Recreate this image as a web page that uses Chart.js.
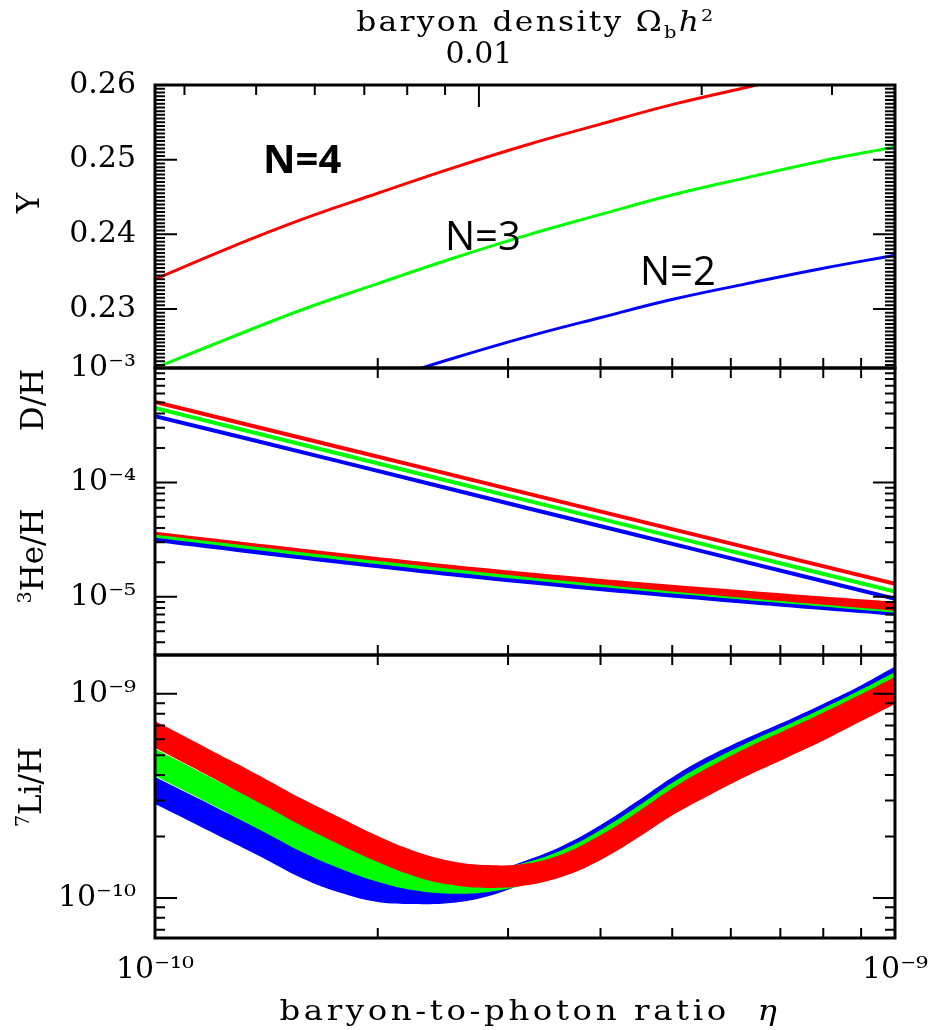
<!DOCTYPE html>
<html>
<head>
<meta charset="utf-8">
<title>BBN abundances vs baryon-to-photon ratio</title>
<script src="https://cdn.jsdelivr.net/npm/chart.js@4.4.1/dist/chart.umd.min.js"></script>
<style>
  html, body { margin: 0; padding: 0; background: #fff; }
  #wrap { position: relative; width: 942px; height: 1030px; overflow: hidden; }
  canvas { position: absolute; left: 0; top: 0; }
  .lbl { position: absolute; white-space: nowrap; font-family: 'DejaVu Serif', serif; color: #000; }
  .rot { transform: translate(-50%, -50%) rotate(-90deg); font-size: 31px; line-height: 31px; }
  .lbl sub, .lbl sup { font-size: 62%; line-height: 0; }
  .n { position: absolute; white-space: nowrap; font-family: 'Open Sans', 'Noto Sans', sans-serif; font-size: 40px; line-height: 40px; color: #000; }
</style>
</head>
<body>
<div id="wrap">
  <canvas id="bbn" width="942" height="1030"></canvas>

  <div class="lbl" style="left:0; width:1072px; top:8px; text-align:center; font-size:28px; line-height:28px; letter-spacing:2px; transform:scaleX(1.12);">baryon density Ω<sub>b</sub><i>h</i><sup>2</sup></div>

  <div class="lbl rot" style="left:28px; top:203px;">Y</div>
  <div class="lbl rot" style="left:32px; top:400px;">D/H</div>
  <div class="lbl rot" style="left:32px; top:556px;"><sup>3</sup>He/H</div>
  <div class="lbl rot" style="left:30px; top:787px;"><sup>7</sup>Li/H</div>

  <div class="lbl" style="left:0; width:1060px; top:997px; text-align:center; font-size:27px; line-height:27px; letter-spacing:3px; transform:scaleX(1.2);">baryon-to-photon ratio&nbsp;&nbsp;<i>η</i></div>

  <div class="n" style="left:263px; top:138px; font-weight:700;">N=4</div>
  <div class="n" style="left:445px; top:215px;">N=3</div>
  <div class="n" style="left:640px; top:250px;">N=2</div>
</div>

<script>
'use strict';

// helium-4 mass fraction Y, one curve per neutrino number
var etaY = [1.00e-10, 1.26e-10, 1.58e-10, 2.00e-10, 2.51e-10, 3.16e-10, 3.98e-10, 5.01e-10, 6.31e-10, 7.94e-10, 1.00e-9];
var yN4 = [0.2340, 0.2382, 0.2420, 0.2455, 0.2488, 0.2519, 0.2547, 0.2574, 0.2597, 0.2619, 0.2638];
var yN3 = [0.2221, 0.2261, 0.2299, 0.2334, 0.2367, 0.2398, 0.2426, 0.2453, 0.2476, 0.2498, 0.2517];
var yN2 = [0.2091, 0.2131, 0.2168, 0.2202, 0.2233, 0.2262, 0.2288, 0.2313, 0.2334, 0.2354, 0.2372];

// deuterium and helium-3
var etaD = [1.00e-10, 1.78e-10, 3.16e-10, 5.62e-10, 1.00e-9];
var dhN4 = [5.04e-4, 2.02e-4, 8.10e-5, 3.24e-5, 1.30e-5];
var dhN3 = [4.47e-4, 1.77e-4, 7.03e-5, 2.79e-5, 1.11e-5];
var dhN2 = [3.80e-4, 1.52e-4, 6.04e-5, 2.41e-5, 9.60e-6];
var he3N4Hi = [3.70e-5, 2.42e-5, 1.65e-5, 1.20e-5, 9.04e-6];
var he3N4Lo = [3.48e-5, 2.24e-5, 1.50e-5, 1.04e-5, 7.55e-6];
var he3N3Hi = [3.55e-5, 2.30e-5, 1.55e-5, 1.10e-5, 7.90e-6];
var he3N3Lo = [3.28e-5, 2.10e-5, 1.41e-5, 1.00e-5, 7.25e-6];
var he3N2Hi = [3.35e-5, 2.16e-5, 1.46e-5, 1.03e-5, 7.40e-6];
var he3N2Lo = [3.02e-5, 1.94e-5, 1.30e-5, 9.23e-6, 6.83e-6];

// lithium-7 bands (upper and lower edge of each)
var etaLi = [1.00e-10, 1.12e-10, 1.26e-10, 1.41e-10, 1.58e-10, 1.78e-10, 2.00e-10, 2.24e-10, 2.51e-10, 2.82e-10, 3.16e-10,
             3.55e-10, 3.98e-10, 4.47e-10, 5.01e-10, 5.62e-10, 6.31e-10, 7.08e-10, 7.94e-10, 8.91e-10, 1.00e-9];
var liN4Hi = [7.37e-10, 5.95e-10, 4.75e-10, 3.83e-10, 3.06e-10, 2.47e-10, 2.01e-10, 1.70e-10, 1.52e-10, 1.45e-10, 1.47e-10,
              1.64e-10, 2.01e-10, 2.61e-10, 3.46e-10, 4.39e-10, 5.44e-10, 6.59e-10, 7.98e-10, 9.78e-10, 1.21e-9];
var liN4Lo = [5.44e-10, 4.39e-10, 3.50e-10, 2.82e-10, 2.25e-10, 1.82e-10, 1.50e-10, 1.28e-10, 1.16e-10, 1.12e-10, 1.15e-10,
              1.27e-10, 1.52e-10, 1.95e-10, 2.55e-10, 3.20e-10, 3.96e-10, 4.80e-10, 5.82e-10, 7.21e-10, 8.93e-10];
var liN3Hi = [5.38e-10, 4.36e-10, 3.50e-10, 2.84e-10, 2.28e-10, 1.88e-10, 1.61e-10, 1.45e-10, 1.37e-10, 1.39e-10, 1.49e-10,
              1.72e-10, 2.13e-10, 2.78e-10, 3.68e-10, 4.67e-10, 5.75e-10, 6.93e-10, 8.40e-10, 1.03e-9, 1.28e-9];
var liN3Lo = [3.96e-10, 3.22e-10, 2.58e-10, 2.09e-10, 1.68e-10, 1.39e-10, 1.20e-10, 1.09e-10, 1.05e-10, 1.07e-10, 1.16e-10,
              1.33e-10, 1.61e-10, 2.07e-10, 2.72e-10, 3.40e-10, 4.19e-10, 5.05e-10, 6.12e-10, 7.59e-10, 9.45e-10];
var liN2Hi = [3.92e-10, 3.20e-10, 2.58e-10, 2.11e-10, 1.70e-10, 1.44e-10, 1.28e-10, 1.24e-10, 1.24e-10, 1.33e-10, 1.52e-10,
              1.80e-10, 2.25e-10, 2.96e-10, 3.92e-10, 4.97e-10, 6.08e-10, 7.29e-10, 8.83e-10, 1.08e-9, 1.36e-9];
var liN2Lo = [2.89e-10, 2.36e-10, 1.90e-10, 1.55e-10, 1.25e-10, 1.06e-10, 9.56e-11, 9.35e-11, 9.45e-11, 1.02e-10, 1.18e-10,
              1.39e-10, 1.70e-10, 2.20e-10, 2.89e-10, 3.62e-10, 4.44e-10, 5.32e-10, 6.44e-10, 7.98e-10, 1.00e-9];

// tick labels
var xTickValues = [1e-10, 1e-9];
var xTickLabels = ['10⁻¹⁰', '10⁻⁹'];
var omegaTickValues = [0.01];
var omegaTickLabels = ['0.01'];
var yTickValues = [0.23, 0.24, 0.25, 0.26];
var yTickLabels = ['0.23', '0.24', '0.25', '0.26'];
var dTickValues = [1e-5, 1e-4, 1e-3];
var dTickLabels = ['10⁻⁵', '10⁻⁴', '10⁻³'];
var liTickValues = [1e-10, 1e-9];
var liTickLabels = ['10⁻¹⁰', '10⁻⁹'];

var ETA_PER_OMEGA = 2.74e-8;   // eta = 2.74e-8 * Omega_b h^2
var RED = '#ff0000', GREEN = '#00ff00', BLUE = '#0000ff';
var tickFont = { family: "'DejaVu Serif', serif", size: 30 };

function pts(xs, ys) {
    return xs.map(function (x, i) { return { x: x, y: ys[i] }; });
}

function curve(xs, ys, color, axis, width) {
    return {
        data: pts(xs, ys), yAxisID: axis, borderColor: color, borderWidth: width,
        pointRadius: 0, fill: false, tension: 0.4
    };
}

function band(xs, hi, lo, color, axis) {
    return [
        { data: pts(xs, hi), yAxisID: axis, borderColor: 'rgba(0,0,0,0)', borderWidth: 0,
          pointRadius: 0, fill: '+1', backgroundColor: color, tension: 0.4 },
        { data: pts(xs, lo), yAxisID: axis, borderColor: 'rgba(0,0,0,0)', borderWidth: 0,
          pointRadius: 0, fill: false, tension: 0.4 }
    ];
}

function fixedTicks(values, labels) {
    return {
        build: function (scale) {
            scale.ticks = values.map(function (v) { return { value: v }; });
        },
        label: function (value) {
            var i = values.indexOf(value);
            return i < 0 ? '' : labels[i];
        }
    };
}

function panelAxis(type, min, max, weight, stackWeight, values, labels) {
    var t = fixedTicks(values, labels);
    return {
        type: type, position: 'left', stack: 'panels', stackWeight: stackWeight, weight: weight,
        min: min, max: max, bounds: 'data',
        grid: { display: false, drawTicks: false }, border: { display: false },
        afterBuildTicks: t.build,
        afterFit: function (s) { s.width = 155; },
        ticks: { autoSkip: false, padding: 19, color: '#000', font: tickFont, callback: t.label }
    };
}

var datasets = [].concat(
    band(etaLi, liN4Hi, liN4Lo, RED, 'yL'),
    band(etaLi, liN3Hi, liN3Lo, GREEN, 'yL'),
    band(etaLi, liN2Hi, liN2Lo, BLUE, 'yL'),
    band(etaD, he3N4Hi, he3N4Lo, RED, 'yD'),
    band(etaD, he3N3Hi, he3N3Lo, GREEN, 'yD'),
    band(etaD, he3N2Hi, he3N2Lo, BLUE, 'yD'),
    [curve(etaD, dhN4, RED, 'yD', 4),
     curve(etaD, dhN3, GREEN, 'yD', 4),
     curve(etaD, dhN2, BLUE, 'yD', 4),
     curve(etaY, yN4, RED, 'yY', 3),
     curve(etaY, yN3, GREEN, 'yY', 3),
     curve(etaY, yN2, BLUE, 'yY', 3)]
);

// tick marks drawn inside every panel frame
function logMinors(lo, hi) {
    var out = [];
    for (var k = -12; k <= -2; k++) {
        for (var m = 2; m <= 9; m++) {
            var v = m * Math.pow(10, k);
            if (v > lo && v < hi) out.push(v);
        }
    }
    return out;
}

function linMinors(lo, hi, step, every) {
    var out = [];
    for (var k = Math.ceil(lo / step); k * step < hi; k++) {
        if (k % every !== 0) out.push(k * step);
    }
    return out;
}

var panels = [
    { id: 'yY', major: [0.23, 0.24, 0.25], minor: linMinors(0.2222, 0.2599, 0.0005, 20) },
    { id: 'yD', major: [1e-5, 1e-4], minor: logMinors(3.1e-6, 1e-3) },
    { id: 'yL', major: [1e-10, 1e-9], minor: logMinors(6.37e-11, 1.55e-9) }
];
var etaTickMarks = [2e-10, 3e-10, 4e-10, 5e-10, 6e-10, 7e-10, 8e-10, 9e-10];
var omegaTickMarks = [0.004, 0.005, 0.006, 0.007, 0.008, 0.009, 0.02, 0.03];

var framePlugin = {
    id: 'frames',
    afterDatasetsDraw: function (chart) {
        var ctx = chart.ctx;
        var x = chart.scales.x;
        var om = chart.scales.x2;
        ctx.save();
        ctx.strokeStyle = '#000';
        ctx.lineWidth = 2;
        ctx.beginPath();
        panels.forEach(function (p, n) {
            var s = chart.scales[p.id];
            function side(v, len) {
                var py = s.getPixelForValue(v);
                if (py <= s.top + 1 || py >= s.bottom - 1) return;
                ctx.moveTo(x.left, py); ctx.lineTo(x.left + len, py);
                ctx.moveTo(x.right, py); ctx.lineTo(x.right - len, py);
            }
            p.minor.forEach(function (v) { side(v, 10); });
            p.major.forEach(function (v) { side(v, 22); });
            etaTickMarks.forEach(function (v) {
                var px = x.getPixelForValue(v);
                if (n > 0) { ctx.moveTo(px, s.top); ctx.lineTo(px, s.top + 10); }
                ctx.moveTo(px, s.bottom); ctx.lineTo(px, s.bottom - 10);
            });
            if (n === 0) {
                omegaTickMarks.forEach(function (v) {
                    var px = om.getPixelForValue(v);
                    ctx.moveTo(px, s.top); ctx.lineTo(px, s.top + 10);
                });
                omegaTickValues.forEach(function (v) {
                    var px = om.getPixelForValue(v);
                    ctx.moveTo(px, s.top); ctx.lineTo(px, s.top + 22);
                });
            }
        });
        ctx.stroke();
        ctx.lineWidth = 3;
        panels.forEach(function (p) {
            var s = chart.scales[p.id];
            ctx.strokeRect(x.left, s.top, x.right - x.left, s.bottom - s.top);
        });
        ctx.restore();
    }
};

var xt = fixedTicks(xTickValues, xTickLabels);
var ot = fixedTicks(omegaTickValues, omegaTickLabels);

new Chart(document.getElementById('bbn'), {
    type: 'line',
    data: { datasets: datasets },
    options: {
        responsive: false,
        devicePixelRatio: 1,
        animation: false,
        events: [],
        layout: { padding: { left: 0, right: 39, top: 0, bottom: 0 } },
        plugins: { legend: { display: false }, tooltip: { enabled: false } },
        scales: {
            x: {
                type: 'logarithmic', position: 'bottom', min: 1e-10, max: 1e-9, bounds: 'data',
                grid: { display: false, drawTicks: false }, border: { display: false },
                afterBuildTicks: xt.build,
                afterFit: function (s) { s.height = 92; },
                ticks: { autoSkip: false, maxRotation: 0, padding: 14, color: '#000', font: tickFont, callback: xt.label }
            },
            x2: {
                type: 'logarithmic', position: 'top',
                min: 1e-10 / ETA_PER_OMEGA, max: 1e-9 / ETA_PER_OMEGA, bounds: 'data',
                grid: { display: false, drawTicks: false }, border: { display: false },
                afterBuildTicks: ot.build,
                afterFit: function (s) { s.height = 85; },
                ticks: { autoSkip: false, maxRotation: 0, padding: 12, color: '#000', font: tickFont, callback: ot.label }
            },
            yY: panelAxis('linear', 0.2221, 0.26, 2, 283, yTickValues, yTickLabels),
            yD: panelAxis('logarithmic', 3.1e-6, 1e-3, 1, 287, dTickValues, dTickLabels),
            yL: panelAxis('logarithmic', 6.37e-11, 1.55e-9, 0, 283, liTickValues, liTickLabels)
        }
    },
    plugins: [framePlugin]
});
</script>
</body>
</html>
